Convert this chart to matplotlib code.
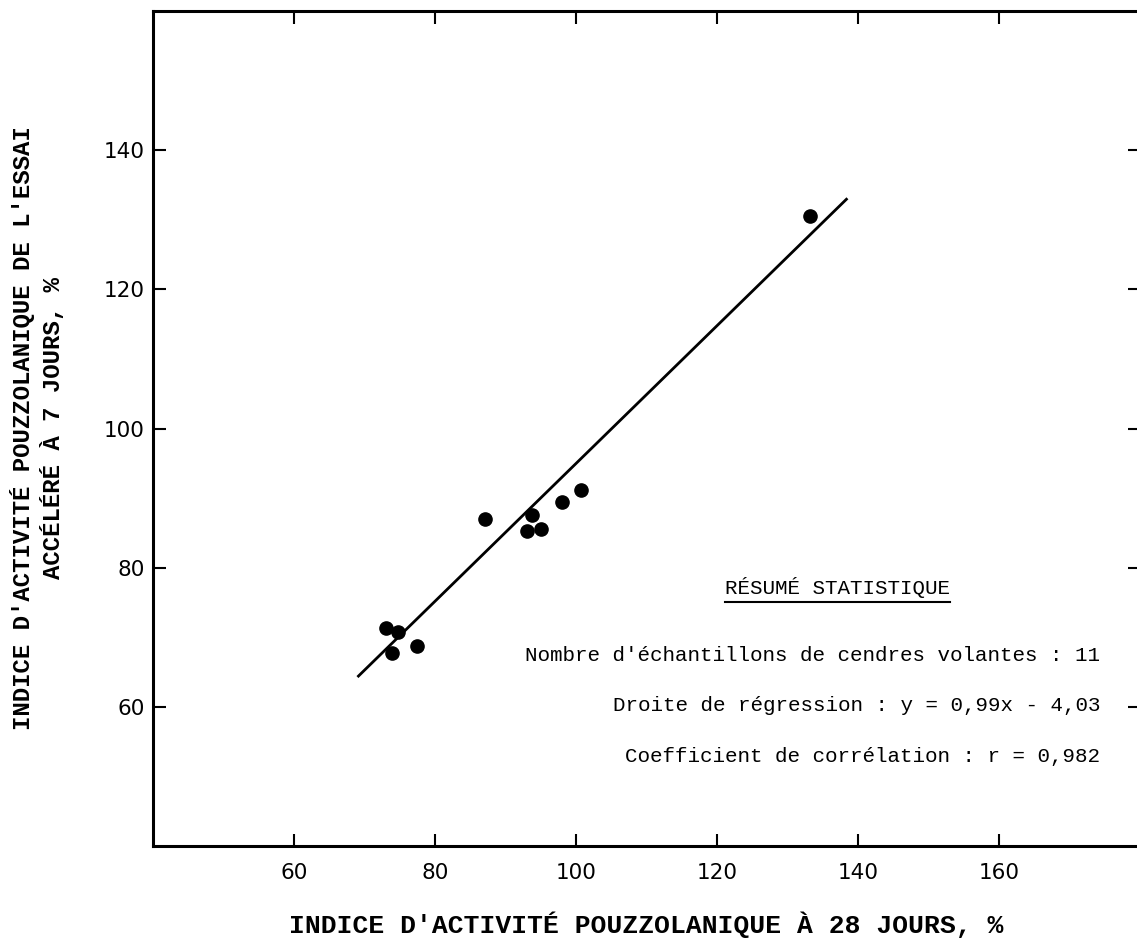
import numpy as np
import matplotlib
matplotlib.use("Agg")
from matplotlib import pyplot as plt
from matplotlib.lines import Line2D

# fly ash samples: 28-day index (x) vs accelerated 7-day index (y)
x_28j = [73.1, 74.8, 73.9, 77.5, 87.1, 93.0, 93.8, 95.1, 98.0, 100.7, 133.2]
y_7j = [71.3, 70.7, 67.7, 68.7, 87.0, 85.2, 87.5, 85.5, 89.5, 91.2, 130.6]

slope = 0.99
intercept = -4.03
fit_x = [69.0, 138.5]

x_ticks = [60, 80, 100, 120, 140, 160]
y_ticks = [60, 80, 100, 120, 140]

stats_title = "RÉSUMÉ STATISTIQUE"
stats_lines = [
    "Nombre d'échantillons de cendres volantes : 11",
    "Droite de régression : y = 0,99x - 4,03",
    "Coefficient de corrélation : r = 0,982",
]

xlabel = "INDICE D'ACTIVITÉ POUZZOLANIQUE À 28 JOURS, %"
ylabel = "INDICE D'ACTIVITÉ POUZZOLANIQUE DE L'ESSAI\nACCÉLÉRÉ À 7 JOURS, %"

mono = "Liberation Mono"

fig = plt.figure(figsize=(11.37, 9.46), dpi=100)
ax = fig.add_axes([153 / 1137, 100 / 946, 987 / 1137, 835 / 946])

fx = np.array(fit_x)
ax.plot(fx, slope * fx + intercept, "-k", lw=2.0, solid_capstyle="butt")
ax.plot(x_28j, y_7j, "o", color="black", ms=9.5, mec="black")

ax.set_xlim(40, 180)
ax.set_ylim(40, 160)
ax.set_xticks(x_ticks)
ax.set_yticks(y_ticks)

for s in ax.spines.values():
    s.set_linewidth(2.2)

ax.tick_params(direction="in", length=9, width=1.5, top=True, right=True,
               labelsize=15.5, colors="black")
ax.tick_params(axis="x", pad=12)
ax.tick_params(axis="y", pad=6)
for lab in ax.get_xticklabels() + ax.get_yticklabels():
    lab.set_family("DejaVu Sans")

ax.set_xlabel(xlabel, family=mono, fontweight="bold", fontsize=19)
ax.xaxis.set_label_coords(0.5, -0.078)
ax.set_ylabel(ylabel, family=mono, fontweight="bold", fontsize=17.3,
              multialignment="center", linespacing=1.3)
ax.yaxis.set_label_coords(-0.089, 0.5)

t = ax.text(0.694, 0.310, stats_title, transform=ax.transAxes, family=mono,
            fontsize=15, ha="center", va="center")
ys = [0.2287, 0.1677, 0.1066]
for line, yy in zip(stats_lines, ys):
    ax.text(0.9595, yy, line, transform=ax.transAxes, family=mono,
            fontsize=15, ha="right", va="center")

# underline the summary title
fig.canvas.draw()
bb = t.get_window_extent().transformed(fig.transFigure.inverted())
uy = bb.y0 - 4 / 946
fig.add_artist(Line2D([bb.x0, bb.x1], [uy, uy], transform=fig.transFigure,
                      color="black", lw=1.5))

fig.savefig("out.png", dpi=100)
